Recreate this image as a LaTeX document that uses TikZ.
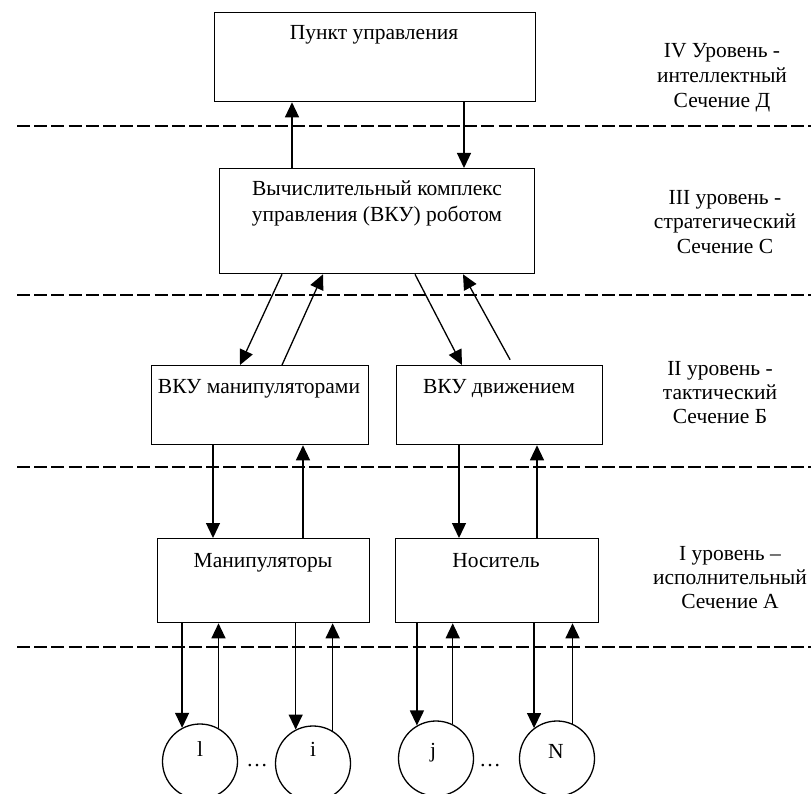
\documentclass[tikz,border=0pt]{standalone}
\usepackage{fontspec}
\setmainfont{Liberation Serif}
\usetikzlibrary{arrows.meta}
\begin{document}
\begin{tikzpicture}[x=1pt,y=-1pt,
  box/.style={draw, line width=1.3pt, inner sep=0pt, anchor=north west},
  lbl/.style={font=\fontsize{21.5}{25}\selectfont, anchor=base, inner sep=0pt},
  arr/.style={line width=1.3pt, -{Triangle[length=15pt,width=14pt]}},
  sepline/.style={line width=1.8pt, dash pattern=on 13pt off 4.2pt},
  circ/.style={draw, circle, line width=1.3pt, minimum size=75pt, inner sep=0pt}]
\useasboundingbox (0,0) rectangle (811,794);
\clip (0,0) rectangle (811,794);

% level separators
\draw[sepline] (17,126) -- (811,126);
\draw[sepline] (17,295) -- (811,295);
\draw[sepline] (17,467) -- (811,467);
\draw[sepline] (17,647) -- (811,647);

% boxes
\node[box, minimum width=321pt, minimum height=89pt] (b1) at (214,12) {};
\node[box, minimum width=315pt, minimum height=105pt] (b2) at (219,168) {};
\node[box, minimum width=217pt, minimum height=79pt] (b3) at (151,365) {};
\node[box, minimum width=206pt, minimum height=79pt] (b4) at (396,365) {};
\node[box, minimum width=212pt, minimum height=84pt] (b5) at (157,538) {};
\node[box, minimum width=203pt, minimum height=84pt] (b6) at (395,538) {};

% box texts
\node[lbl] (t1) at (374,40) {Пункт управления};
\node[lbl] (t2a) at (377,196) {Вычислительный комплекс};
\node[lbl] (t2b) at (377,222) {управления (ВКУ) роботом};
\node[lbl] (t3) at (259,393) {ВКУ манипуляторами};
\node[lbl] (t4) at (499,393) {ВКУ движением};
\node[lbl] (t5) at (263,567) {Манипуляторы};
\node[lbl] (t6) at (496,567) {Носитель};

% level texts
\node[lbl] (r4a) at (722,58) {IV Уровень -};
\node[lbl] (r4b) at (722,83) {интеллектный};
\node[lbl] (r4c) at (722,108) {Сечение Д};
\node[lbl] (r3a) at (725,205) {III уровень -};
\node[lbl] (r3b) at (725,229) {стратегический};
\node[lbl] (r3c) at (725,254) {Сечение С};
\node[lbl] (r2a) at (720,375) {II уровень -};
\node[lbl] (r2b) at (720,399) {тактический};
\node[lbl] (r2c) at (720,423) {Сечение Б};
\node[lbl] (r1a) at (730,560) {I уровень –};
\node[lbl] (r1b) at (730,584) {исполнительный};
\node[lbl] (r1c) at (730,608) {Сечение А};

% executive elements
\node[circ] (c1) at (200,761.5) {};
\node[circ] (c2) at (313,763.5) {};
\node[circ] (c3) at (436,758.5) {};
\node[circ] (c4) at (557,758.5) {};
\node[lbl] (l1) at (200,756) {l};
\node[lbl] (l2) at (313,756) {i};
\node[lbl] (l3) at (433,757) {j};
\node[lbl] (l4) at (556,758) {N};
\node[lbl] (d1) at (257,766) {…};
\node[lbl] (d2) at (490,766) {…};

% x positions of connectors
\coordinate (xa) at (292,0);
\coordinate (xb) at (464,0);
\coordinate (s1a) at (282,0); \coordinate (s1b) at (240,0);
\coordinate (s2a) at (282,0); \coordinate (s2b) at (323,0);
\coordinate (s3a) at (415,0); \coordinate (s3b) at (462,0);
\coordinate (s4a) at (513,0); \coordinate (s4b) at (463,0);
\coordinate (v1) at (213,0); \coordinate (v2) at (303,0);
\coordinate (v3) at (459,0); \coordinate (v4) at (537,0);

% level IV <-> III
\draw[arr] (b2.north -| xa) -- (b1.south -| xa);
\draw[arr] (b1.south -| xb) -- (b2.north -| xb);

% level III <-> II
\draw[arr] (b2.south -| s1a) -- (b3.north -| s1b);
\draw[arr] (b3.north -| s2a) -- (b2.south -| s2b);
\draw[arr] (b2.south -| s3a) -- (b4.north -| s3b);
\draw[arr, shorten <=6pt] (b4.north -| s4a) -- (b2.south -| s4b);

% level II <-> I
\draw[arr] (b3.south -| v1) -- (b5.north -| v1);
\draw[arr] (b5.north -| v2) -- (b3.south -| v2);
\draw[arr] (b4.south -| v3) -- (b6.north -| v3);
\draw[arr] (b6.north -| v4) -- (b4.south -| v4);

% level I <-> elements
\coordinate (e1) at (c1.118.7); \coordinate (f1) at (c1.61.3);
\coordinate (e2) at (c2.117);   \coordinate (f2) at (c2.59.5);
\coordinate (e3) at (c3.120.5); \coordinate (f3) at (c3.64.7);
\coordinate (e4) at (c4.127.8); \coordinate (f4) at (c4.66.4);
\draw[arr] (b5.south -| e1) -- (e1);
\draw[arr] (f1) -- (b5.south -| f1);
\draw[arr] (b5.south -| e2) -- (e2);
\draw[arr] (f2) -- (b5.south -| f2);
\draw[arr] (b6.south -| e3) -- (e3);
\draw[arr] (f3) -- (b6.south -| f3);
\draw[arr] (b6.south -| e4) -- (e4);
\draw[arr] (f4) -- (b6.south -| f4);
\end{tikzpicture}
\end{document}
